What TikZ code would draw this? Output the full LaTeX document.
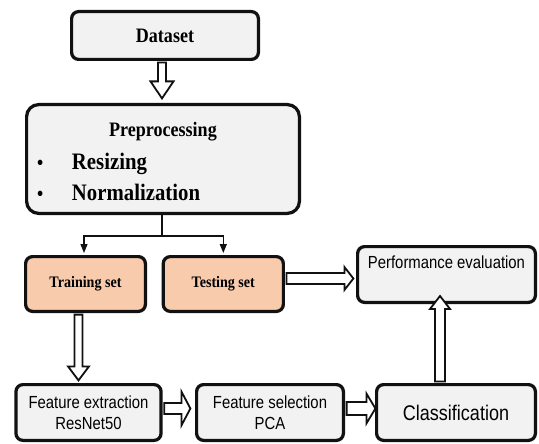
\documentclass[tikz,border=0pt]{standalone}
\usepackage{fontspec}
\setmainfont{Liberation Serif}[FakeStretch=0.88]
\newfontfamily\sansn{Liberation Sans}[FakeStretch=0.85]
\usetikzlibrary{calc,arrows.meta}
\definecolor{boxgray}{HTML}{F2F2F2}
\definecolor{peach}{HTML}{F8CBAD}
\definecolor{edge}{HTML}{111111}
\tikzset{
  box/.style={draw=edge, line width=3.2pt, fill=boxgray, rounded corners=7pt, inner sep=0pt, align=center},
  setbox/.style={box, fill=peach, minimum width=#1, minimum height=54.8pt, font=\bfseries\fontsize{16}{19}\selectfont},
  stepsans/.style={box, minimum height=55.8pt, font=\sansn\fontsize{17.5}{21}\selectfont},
  thinline/.style={draw=edge, line width=1.4pt},
  tipline/.style={thinline, -{Triangle[length=9pt,width=7pt]}},
  barrow/.style n args={3}{draw=edge, line width=1.8pt, fill=white, line join=miter,
    to path={let \p1=($(\tikztotarget)!#3!(\tikztostart)$) in
      ($(\tikztostart)!#1!90:(\tikztotarget)$) -- ($(\p1)!#1!90:(\tikztotarget)$)
      -- ($(\p1)!#2!90:(\tikztotarget)$) -- (\tikztotarget)
      -- ($(\p1)!#2!-90:(\tikztotarget)$) -- ($(\p1)!#1!-90:(\tikztotarget)$)
      -- ($(\tikztostart)!#1!-90:(\tikztotarget)$) -- cycle}},
}
\begin{document}
\begin{tikzpicture}[x=1pt,y=1pt]
\useasboundingbox (0,0) rectangle (539,-444);
% nodes
\node[box, minimum width=186.8pt, minimum height=47.8pt, font=\bfseries\fontsize{20.5}{24}\selectfont] (data) at (165,-35.5) {Dataset};
\node[box, rounded corners=12pt, minimum height=108.8pt, text width=272.8pt, align=left,
      font=\bfseries\fontsize{23.6}{31}\selectfont] (pre) at (163,-159)
  {\makebox[272.8pt]{\rule{0pt}{20pt}\fontsize{20.5}{24}\selectfont Preprocessing}\\[2pt]
   \makebox[45.4pt][l]{\hspace*{10.4pt}\fontsize{20}{24}\selectfont\textbullet}Resizing\\
   \makebox[45.4pt][l]{\hspace*{10.4pt}\fontsize{20}{24}\selectfont\textbullet}Normalization};
\node[setbox=119.8pt] (train) at (85.5,-284) {Training set};
\node[setbox=120.1pt] (test) at (223.3,-284) {Testing set};
\node[box, minimum width=177.8pt, text height=21.7pt, text depth=34.1pt, font=\sansn\fontsize{17.5}{21}\selectfont] (perf) at (446.5,-274.5) {Performance evaluation};
\node[stepsans, minimum width=145.1pt] (fe) at (88.5,-412.5) {Feature extraction\\ResNet50};
\node[stepsans, minimum width=146.8pt] (fs) at (270,-412.5) {Feature selection\\PCA};
\node[stepsans, minimum width=158.8pt, font=\sansn\fontsize{21.2}{25}\selectfont] (cl) at (456,-412.5) {Classification};
% thin split connectors
\coordinate (split) at ([xshift=-1pt,yshift=-21pt]pre.south);
\draw[thinline] (pre.south -| split) -- (split);
\draw[tipline] (split) -| ([xshift=-1.5pt,yshift=2pt]train.north);
\draw[tipline] (split) -| ([yshift=2pt]test.north);
% block arrows
\coordinate (a1s) at ([xshift=-3pt,yshift=-1.6pt]data.south);
\coordinate (a1t) at ([yshift=4.6pt]a1s |- pre.north);
\draw[barrow={4pt}{11.5pt}{17pt}] (a1s) to (a1t);
\coordinate (a2s) at ([xshift=-7pt,yshift=-1.6pt]train.south);
\coordinate (a2t) at ([yshift=2.6pt]a2s |- fe.north);
\draw[barrow={4pt}{10.5pt}{14pt}] (a2s) to (a2t);
\coordinate (a3s) at ([xshift=1.6pt,yshift=5.5pt]test.east);
\coordinate (a3t) at ([xshift=-2.6pt]a3s -| perf.west);
\draw[barrow={5.5pt}{11.5pt}{9pt}] (a3s) to (a3t);
\coordinate (a4s) at ([xshift=1.6pt,yshift=4pt]fe.east);
\coordinate (a4t) at ([xshift=-4.6pt]a4s -| fs.west);
\draw[barrow={5.5pt}{17pt}{9pt}] (a4s) to (a4t);
\coordinate (a5s) at ([xshift=1.6pt,yshift=4pt]fs.east);
\coordinate (a5t) at ([xshift=0.4pt]a5s -| cl.west);
\draw[barrow={6.5pt}{15pt}{9pt}] (a5s) to (a5t);
\coordinate (a6s) at ([xshift=-16pt,yshift=1.6pt]cl.north);
\coordinate (a6t) at ([yshift=8pt]a6s |- perf.south);
\draw[barrow={5pt}{10pt}{13pt}] (a6s) to (a6t);
\end{tikzpicture}
\end{document}
